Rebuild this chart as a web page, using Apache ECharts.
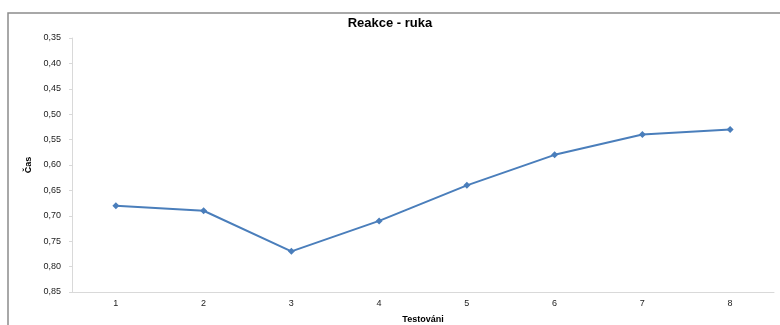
<!DOCTYPE html>
<html>
<head>
<meta charset="utf-8">
<script src="https://cdn.jsdelivr.net/npm/echarts@6/dist/echarts.min.js"></script>
<style>
html,body{margin:0;padding:0;background:#fff;overflow:hidden;}
#c{width:780px;height:325px;}
</style>
</head>
<body>
<div id="c"></div>
<script>
var categories = ['1','2','3','4','5','6','7','8'];
var values = [0.68, 0.69, 0.77, 0.71, 0.64, 0.58, 0.54, 0.53];
var titleText = 'Reakce - ruka';
var xName = 'Testováni';
var yName = 'Čas';

var chart = echarts.init(document.getElementById('c'), null, {renderer:'canvas'});
chart.setOption({
  animation: false,
  backgroundColor: '#fff',
  graphic: [{
    type: 'rect',
    shape: {x: 8, y: 13, width: 800, height: 340},
    style: {fill: 'none', stroke: '#8c8c8c', lineWidth: 1.5},
    silent: true, z: -1
  }],
  title: {
    text: titleText,
    left: 'center',
    top: 12,
    textStyle: {fontFamily: 'Liberation Sans, Arial', fontSize: 13, fontWeight: 'bold', color: '#000'}
  },
  grid: {left: 72, top: 38, right: 6, bottom: 33, containLabel: false, outerBoundsMode: 'none'},
  xAxis: {
    type: 'category',
    data: categories,
    boundaryGap: true,
    name: xName,
    nameLocation: 'middle',
    nameGap: 23,
    nameTextStyle: {fontFamily: 'Liberation Sans, Arial', fontSize: 9, fontWeight: 'bold', color: '#000'},
    axisLine: {lineStyle: {color: '#d9d9d9', width: 1}},
    axisTick: {show: false},
    axisLabel: {fontFamily: 'Liberation Sans, Arial', fontSize: 9, color: '#222', margin: 7}
  },
  yAxis: {
    type: 'value',
    inverse: true,
    min: 0.35,
    max: 0.85,
    interval: 0.05,
    name: yName,
    nameLocation: 'middle',
    nameGap: 36,
    nameRotate: 90,
    nameTextStyle: {fontFamily: 'Liberation Sans, Arial', fontSize: 9, fontWeight: 'bold', color: '#000'},
    axisLine: {show: true, lineStyle: {color: '#d9d9d9', width: 1}},
    axisTick: {show: true, length: 3, inside: false, lineStyle: {color: '#d9d9d9'}},
    splitLine: {show: false},
    axisLabel: {
      fontFamily: 'Liberation Sans, Arial', fontSize: 9, color: '#222', margin: 11,
      formatter: function (v) { return v.toFixed(2).replace('.', ','); }
    }
  },
  series: [{
    type: 'line',
    data: values,
    symbol: 'diamond',
    symbolSize: 7,
    itemStyle: {color: '#4a7ebb'},
    lineStyle: {color: '#4a7ebb', width: 2}
  }]
});
</script>
</body>
</html>
